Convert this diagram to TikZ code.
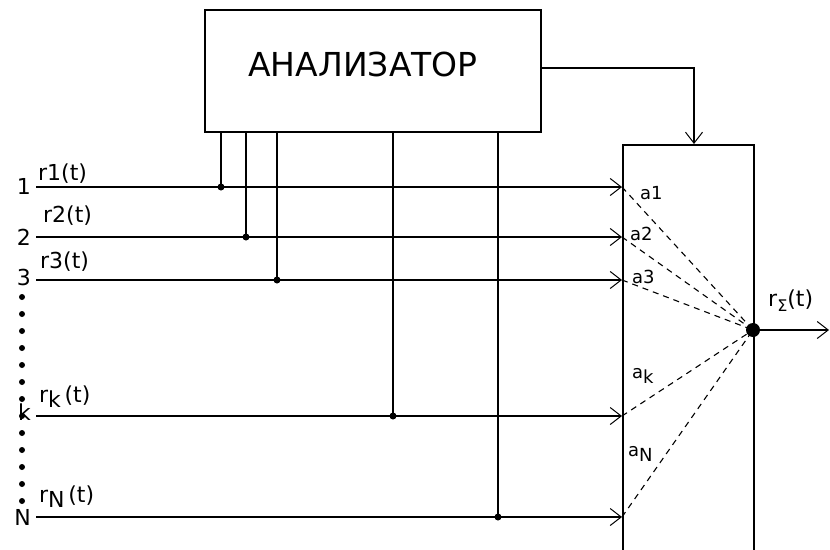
\documentclass[tikz,border=0pt]{standalone}
\usepackage{fontspec}
\setmainfont{DejaVu Sans}
\usetikzlibrary{arrows.meta, positioning}

\newcommand{\lowsub}[1]{\raisebox{-5pt}{#1}}

\begin{document}
\begin{tikzpicture}[
    x=1pt, y=-1pt,
    box/.style={rectangle, draw, line width=1.5pt, inner sep=0pt},
    line/.style={line width=1.5pt},
    arrow/.style={line width=1.5pt, -{Straight Barb[length=11pt, width=17pt, line width=1pt]}},
    weight/.style={line width=1.1pt, dash pattern=on 6pt off 5pt},
    num/.style={font=\fontsize{22}{22}\selectfont, inner sep=0pt, anchor=east},
    lbl/.style={font=\fontsize{22}{22}\selectfont, inner sep=0pt, anchor=base west},
    coef/.style={font=\fontsize{18}{18}\selectfont, inner sep=0pt, anchor=base west}
]
\clip (0,0) rectangle (830,549);

\node[box, minimum width=336pt, minimum height=122pt] (anal) at (373,71) {};
\node[font=\fontsize{33}{33}\selectfont, inner sep=0pt] (analtext) at (363,64) {АНАЛИЗАТОР};
\node[box, minimum width=131pt, minimum height=430pt, anchor=north west] (block) at (622,144) {};

\coordinate (sum) at (753,330);
\coordinate (out) at (829,330);
\coordinate (fb) at (694,144);

% inputs, taps to the analyzer, weights
\foreach \i/\y/\tx in {1/187/221, 2/237/246, 3/280/277, k/416/393, N/517/498}{
  \coordinate (in\i) at (36,\y);
  \coordinate (tap\i) at (\tx,\y);
  \draw[arrow] (in\i) -- (in\i -| block.west);
  \draw[line] (tap\i |- anal.south) -- (tap\i);
  \fill (tap\i) circle (3.5pt);
  \draw[weight] (in\i -| block.west) -- (sum);
}

\draw[arrow] ([yshift=3pt]anal.east) -| (fb);
\draw[arrow] (sum) -- (out);
\fill (sum) circle (7pt);

% dotted column
\foreach \y in {297,314,...,502}
  \fill (22,\y) circle (3pt);

\node[num] (n1) at (31,186) {1};
\node[num] (n2) at (31,237) {2};
\node[num] (n3) at (31,277) {3};
\node[num] (nk) at (31,412) {k};
\node[num] (nN) at (31,517) {N};

\node[lbl] (r1) at (38,180) {r1(t)};
\node[lbl] (r2) at (43,222) {r2(t)};
\node[lbl] (r3) at (40,268) {r3(t)};
\node[lbl] (rk) at (39,402) {r\lowsub{k}\,(t)};
\node[lbl] (rN) at (39,502) {r\lowsub{N}\,(t)};
\node[lbl] (rs) at (768,306) {r\lowsub{\fontsize{16}{16}\selectfont Σ}(t)};

\node[coef] (a1) at (640,199) {a1};
\node[coef] (a2) at (630,240) {a2};
\node[coef] (a3) at (632,283) {a3};
\node[coef] (ak) at (632,378) {a\lowsub{k}};
\node[coef] (aN) at (628,456) {a\lowsub{N}};
\end{tikzpicture}
\end{document}
